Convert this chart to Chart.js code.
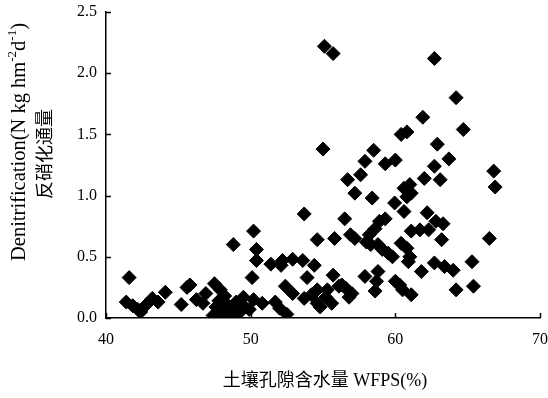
<!DOCTYPE html>
<html>
<head>
<meta charset="utf-8">
<script src="https://cdn.jsdelivr.net/npm/chart.js@4"></script>
<style>
  html, body { margin: 0; padding: 0; background: #fff; }
  #wrap { width: 548px; height: 398px; }
</style>
</head>
<body>
<div id="wrap"><canvas id="denit" width="548" height="398"></canvas></div>
<script>
// WFPS (%) and denitrification flux (N kg hm-2 d-1)
const wfps = [
  41.6, 41.4, 41.85, 42.2, 42.4, 42.8, 43.2, 43.6, 44.1, 45.2,
  45.6, 45.8, 46.25, 46.7, 46.9, 47.5, 47.9, 47.6, 47.4, 47.8,
  48.0, 48.3, 48.5, 48.7, 49.0, 49.2, 49.5, 48.2, 48.8, 49.5,
  49.9, 50.2, 50.4, 50.4, 50.1, 50.2, 50.8, 51.4, 52.1, 52.2,
  52.9, 53.6, 54.4, 53.7, 54.6, 55.8, 56.5, 56.9, 55.7, 53.9,
  52.4, 52.9, 54.6, 54.6, 55.3, 56.1, 52.5, 51.7, 52.0, 53.7,
  54.2, 54.8, 55.2, 55.6,
  55.1, 55.7, 62.7, 64.2, 64.7, 55.0, 61.9, 60.4, 60.8, 62.9,
  63.7, 58.5, 57.9, 59.3, 60.0, 62.7, 66.8, 66.9, 57.6, 56.7,
  62.0, 63.1, 57.2, 58.4, 60.6, 61.0, 60.8, 61.1, 59.95, 60.6,
  62.2, 59.3, 62.8, 63.3, 57.2, 58.9, 58.6, 58.2, 58.0, 58.3,
  58.8, 59.1, 59.5, 59.8, 60.4, 60.8, 61.0, 60.9, 61.1, 61.7,
  62.3, 63.2, 66.5, 61.8, 62.7, 63.4, 64.0, 65.3, 65.4, 64.2,
  57.9, 58.8, 58.7, 58.6, 60.0, 60.3, 60.5, 61.1, 56.6, 56.8,
  56.3, 57.0
];
const flux = [
  0.33, 0.13, 0.10, 0.07, 0.05, 0.11, 0.16, 0.13, 0.21, 0.11,
  0.25, 0.27, 0.15, 0.12, 0.20, 0.28, 0.23, 0.09, 0.02, 0.14,
  0.05, 0.12, 0.02, 0.08, 0.13, 0.04, 0.10, 0.18, 0.60, 0.17,
  0.07, 0.71, 0.56, 0.47, 0.33, 0.15, 0.12, 0.44, 0.43, 0.47,
  0.48, 0.47, 0.43, 0.85, 0.64, 0.65, 0.81, 0.68, 0.35, 0.33,
  0.26, 0.20, 0.23, 0.12, 0.23, 0.26, 0.03, 0.13, 0.08, 0.16,
  0.19, 0.09, 0.17, 0.12,
  2.22, 2.16, 2.12, 1.80, 1.54, 1.38, 1.64, 1.50, 1.52, 1.42,
  1.30, 1.37, 1.28, 1.26, 1.29, 1.24, 1.20, 1.07, 1.17, 1.13,
  1.14, 1.13, 1.02, 0.98, 1.06, 1.09, 0.99, 1.02, 0.94, 0.87,
  0.86, 0.81, 0.79, 0.77, 0.65, 0.79, 0.73, 0.68, 0.62, 0.60,
  0.60, 0.56, 0.53, 0.50, 0.61, 0.57, 0.50, 0.46, 0.71, 0.72,
  0.72, 0.64, 0.65, 0.38, 0.45, 0.42, 0.39, 0.46, 0.26, 0.23,
  0.34, 0.38, 0.30, 0.22, 0.30, 0.27, 0.23, 0.19, 0.24, 0.17,
  0.27, 0.20
];
const xTicks = [40, 50, 60, 70];
const yTicks = [0, 0.5, 1.0, 1.5, 2.0, 2.5];

const xTitle = "土壤孔隙含水量 WFPS(%)";
const yTitleEn = [
  { t: "Denitrification(N kg hm" }, { t: "-2", sup: true },
  { t: "d" }, { t: "-1", sup: true }, { t: ")" }
];
const yTitleCn = "反硝化通量";

const serif = "'Liberation Serif', 'Noto Sans CJK SC', serif";
const cjk = "'Liberation Serif', 'Noto Sans CJK SC', sans-serif";

// small inward tick marks + axis titles
const extras = {
  id: "extras",
  afterDraw(chart) {
    const { ctx, scales: { x, y } } = chart;
    ctx.save();
    ctx.strokeStyle = "#000";
    ctx.lineWidth = 1.5;
    yTicks.forEach(v => {
      const py = Math.round(y.getPixelForValue(v)) + 0.5;
      ctx.beginPath();
      ctx.moveTo(x.left, py);
      ctx.lineTo(x.left + 5, py);
      ctx.stroke();
    });
    xTicks.forEach(v => {
      const px = Math.round(x.getPixelForValue(v)) + 0.5;
      ctx.beginPath();
      ctx.moveTo(px, y.bottom);
      ctx.lineTo(px, y.bottom - 5);
      ctx.stroke();
    });

    ctx.fillStyle = "#000";
    ctx.font = "18px " + cjk;
    ctx.textAlign = "center";
    ctx.textBaseline = "middle";
    ctx.fillText(xTitle, 325, 381);

    // rotated y titles
    ctx.translate(20, 142);
    ctx.rotate(-Math.PI / 2);
    ctx.textAlign = "left";
    ctx.textBaseline = "middle";
    const enFont = s => (s.sup ? "13px " : "20.5px ") + serif;
    let total = 0;
    yTitleEn.forEach(s => {
      ctx.font = enFont(s);
      total += ctx.measureText(s.t).width;
    });
    let cx = -total / 2;
    yTitleEn.forEach(s => {
      ctx.font = enFont(s);
      ctx.fillText(s.t, cx, s.sup ? -7 : 0);
      cx += ctx.measureText(s.t).width;
    });
    ctx.rotate(Math.PI / 2);
    ctx.translate(26, 12);
    ctx.rotate(-Math.PI / 2);
    ctx.font = "18px " + cjk;
    ctx.textAlign = "center";
    ctx.fillText(yTitleCn, 0, 0);
    ctx.restore();
  }
};

const ctx = document.getElementById("denit");

const denitChart = new Chart(ctx, {
  type: "scatter",
  data: {
    datasets: [
      {
        data: wfps.map((w, i) => ({ x: w, y: flux[i] })),
        pointStyle: "rectRot",
        pointRadius: 7,
        pointBorderWidth: 1,
        backgroundColor: "#000",
        borderColor: "#000"
      }
    ]
  },
  options: {
    responsive: false,
    animation: false,
    layout: {
      padding: { left: 0, right: 8, top: 12, bottom: 0 }
    },
    plugins: {
      legend: { display: false },
      tooltip: { enabled: false }
    },
    scales: {
      x: {
        type: "linear",
        min: 40,
        max: 70,
        afterFit: s => {
          s.height = 80;
          s.paddingLeft = 0;
          s.paddingRight = 0;
        },
        afterBuildTicks: s => { s.ticks = xTicks.map(v => ({ value: v })); },
        ticks: {
          color: "#000",
          padding: 12,
          font: { family: serif, size: 16 }
        },
        grid: { drawOnChartArea: false, drawTicks: false },
        border: { display: true, color: "#000", width: 1.5 }
      },
      y: {
        type: "linear",
        min: 0,
        max: 2.5,
        afterFit: s => {
          s.width = 106;
          s.paddingTop = 0;
          s.paddingBottom = 0;
        },
        afterBuildTicks: s => { s.ticks = yTicks.map(v => ({ value: v })); },
        ticks: {
          color: "#000",
          padding: 9,
          font: { family: serif, size: 16 },
          callback: v => v.toFixed(1)
        },
        grid: { drawOnChartArea: false, drawTicks: false },
        border: { display: true, color: "#000", width: 1.5 }
      }
    }
  },
  plugins: [extras]
});
</script>
</body>
</html>
